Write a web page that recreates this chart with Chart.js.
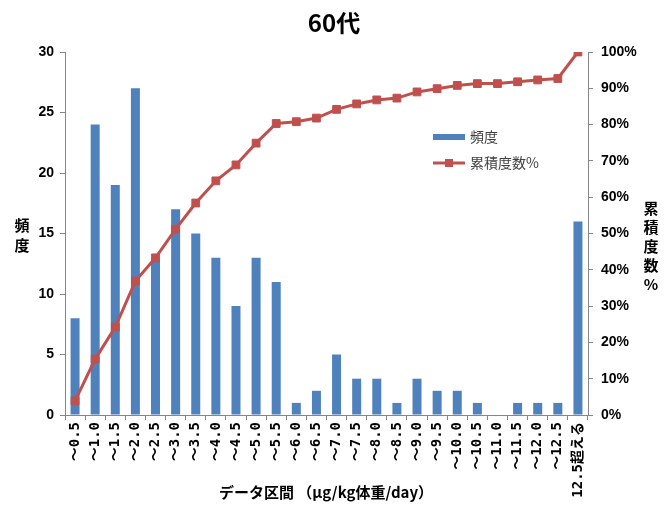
<!DOCTYPE html>
<html>
<head>
<meta charset="utf-8">
<script src="https://cdn.jsdelivr.net/npm/chart.js@4/dist/chart.umd.min.js"></script>
<style>
  html, body { margin: 0; padding: 0; background: #fff; }
  #wrap { width: 668px; height: 508px; }
</style>
</head>
<body>
<div id="wrap"><canvas id="chart" width="668" height="508"></canvas></div>
<script>
// Data
const categories = ['～0.5', '～1.0', '～1.5', '～2.0', '～2.5', '～3.0', '～3.5', '～4.0', '～4.5', '～5.0',
    '～5.5', '～6.0', '～6.5', '～7.0', '～7.5', '～8.0', '～8.5', '～9.0', '～9.5', '～10.0',
    '～10.5', '～11.0', '～11.5', '～12.0', '～12.5', '12.5超える'];
const frequency = [8, 24, 19, 27, 13, 17, 15, 13, 9, 13,
    11, 1, 2, 5, 3, 3, 1, 3, 2, 2,
    1, 0, 1, 1, 1, 16];
const cumulativePct = [3.9, 15.4, 24.2, 36.9, 43.3, 51.2, 58.4, 64.5, 68.9, 74.9,
    80.3, 80.8, 81.8, 84.2, 85.7, 86.8, 87.3, 89.0, 89.9, 90.8,
    91.3, 91.3, 91.8, 92.3, 92.7, 100];
const freqMax = 30;
const freqStep = 5;
const pctMax = 100;
const pctStep = 10;

const titleText = '60代';
const xTitle = 'データ区間 （μg/kg体重/day）';
const leftTitle = ['頻', '度'];
const rightTitle = ['累', '積', '度', '数', '%'];
const legendLabels = ['頻度', '累積度数%'];

const barColor = '#4F81BD';
const lineColor = '#C0504D';
const axisColor = '#868686';
const latin = "'Liberation Sans', 'Noto Sans CJK JP', sans-serif";
const cjk = "'Noto Sans CJK JP', 'Liberation Sans', sans-serif";

// Draws title, stacked axis titles and the in-plot legend
const decorPlugin = {
    id: 'decor',
    afterDraw(chart) {
        const ctx = chart.ctx;
        ctx.save();
        ctx.fillStyle = '#000';
        ctx.textAlign = 'center';
        ctx.textBaseline = 'middle';

        ctx.font = 'bold 24px ' + cjk;
        ctx.fillText(titleText, 334, 23);

        ctx.font = 'bold 15px ' + cjk;
        ctx.fillText(xTitle, 326, 492);

        leftTitle.forEach((ch, i) => ctx.fillText(ch, 22, 225 + i * 20));
        rightTitle.forEach((ch, i) => ctx.fillText(ch, 651, 208 + i * 19));

        // legend
        ctx.textAlign = 'left';
        ctx.font = '14px ' + cjk;
        ctx.fillStyle = barColor;
        ctx.fillRect(433, 134, 32, 6);
        ctx.strokeStyle = lineColor;
        ctx.lineWidth = 3;
        ctx.beginPath();
        ctx.moveTo(433, 163);
        ctx.lineTo(465, 163);
        ctx.stroke();
        ctx.fillStyle = lineColor;
        ctx.fillRect(445, 159, 8, 8);
        ctx.fillStyle = '#404040';
        ctx.fillText(legendLabels[0], 470, 137);
        ctx.fillText(legendLabels[1], 470, 163);
        ctx.restore();
    }
};

new Chart(document.getElementById('chart').getContext('2d'), {
    type: 'bar',
    data: {
        labels: categories,
        datasets: [{
            type: 'line',
            label: legendLabels[1],
            data: cumulativePct,
            yAxisID: 'y1',
            borderColor: lineColor,
            backgroundColor: lineColor,
            borderWidth: 3,
            pointStyle: 'rect',
            pointRadius: 5.5,
            pointBorderWidth: 1,
            tension: 0,
            order: 0
        }, {
            type: 'bar',
            label: legendLabels[0],
            data: frequency,
            yAxisID: 'y',
            backgroundColor: barColor,
            barThickness: 9,
            inflateAmount: 0,
            order: 1
        }]
    },
    options: {
        responsive: false,
        animation: false,
        layout: { padding: { left: 25, right: 30, top: 52, bottom: 0 } },
        plugins: {
            legend: { display: false },
            title: { display: false },
            tooltip: { enabled: false }
        },
        scales: {
            x: {
                offset: true,
                grid: { drawOnChartArea: false, drawTicks: true, tickLength: 5, color: axisColor, offset: true },
                border: { color: axisColor },
                ticks: {
                    autoSkip: false, minRotation: 90, maxRotation: 90, padding: 2,
                    color: '#000', font: { family: "'DejaVu Sans Mono', 'Noto Sans CJK JP', monospace", size: 14, weight: 'bold' }
                },
                afterFit: s => { s.height = 93; }
            },
            y: {
                position: 'left',
                min: 0, max: freqMax,
                grid: { drawOnChartArea: false, tickLength: 5, color: axisColor },
                border: { color: axisColor },
                ticks: { stepSize: freqStep, padding: 6, color: '#000', font: { family: latin, size: 14, weight: 'bold' } },
                afterFit: s => { s.width = 40; }
            },
            y1: {
                position: 'right',
                min: 0, max: pctMax,
                grid: { drawOnChartArea: false, tickLength: 5, color: axisColor },
                border: { color: axisColor },
                ticks: {
                    stepSize: pctStep, padding: 8, color: '#000',
                    font: { family: latin, size: 14, weight: 'bold' },
                    callback: v => v + '%'
                },
                afterFit: s => { s.width = 50; }
            }
        }
    },
    plugins: [decorPlugin]
});
</script>
</body>
</html>
